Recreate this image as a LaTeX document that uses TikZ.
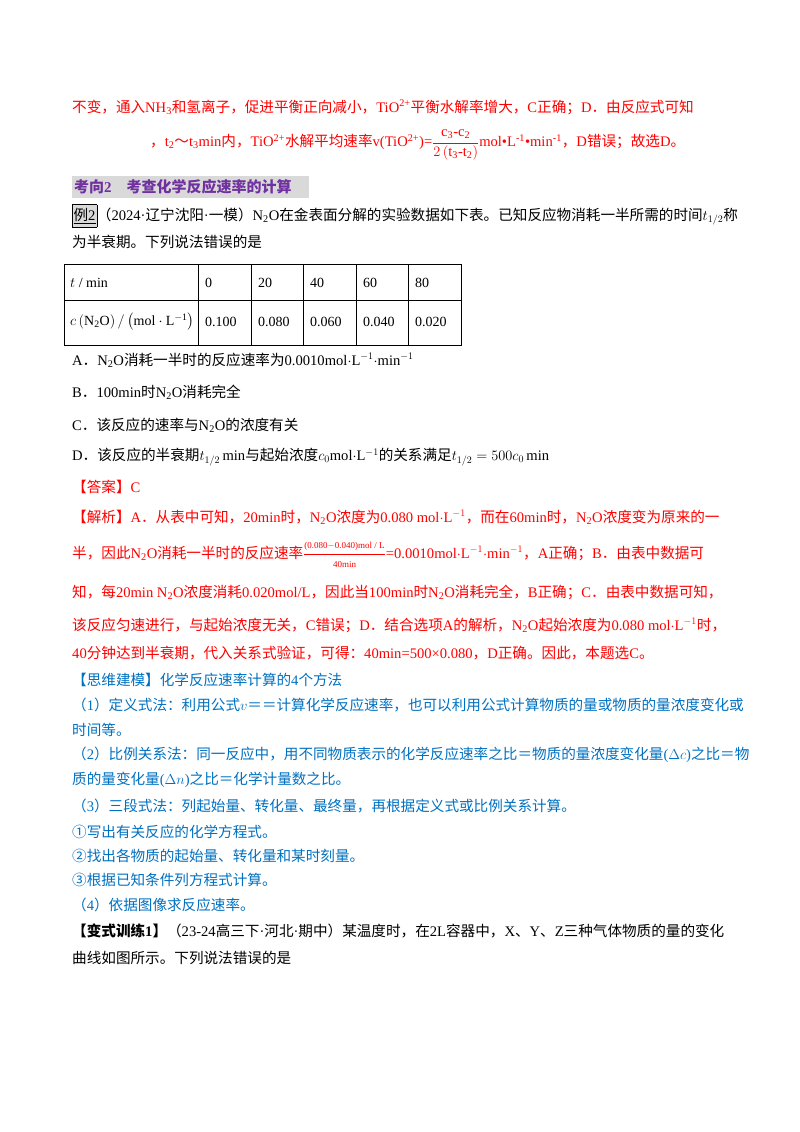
\documentclass[tikz,border=0pt]{standalone}
\usepackage{amsmath}
\usepackage{fontspec}
\setmainfont{Liberation Serif}
\newfontfamily\cjk{Noto Sans CJK SC}
\newfontfamily\lat{Liberation Serif}
\usepackage{tikz}

% switch fonts between Chinese and Latin runs
\newXeTeXintercharclass\cjkclass
\newcount\cc
\def\setcls#1#2{\cc=#1 \loop\XeTeXcharclass\cc=\cjkclass\advance\cc1 \ifnum\cc<#2\repeat}
\setcls{"4E00}{"A000}
\setcls{"3000}{"3040}
\setcls{"FF00}{"FFF0}
\setcls{"2460}{"2500}
\XeTeXinterchartoks 0 \cjkclass={\cjk}
\XeTeXinterchartoks 4095 \cjkclass={\cjk}
\XeTeXinterchartoks \cjkclass 0={\lat}
\XeTeXinterchartoks \cjkclass 4095={\lat}
\XeTeXinterchartokenstate=1

\definecolor{ansred}{RGB}{255,0,0}
\definecolor{tipblue}{RGB}{0,112,192}
\definecolor{headpurple}{RGB}{112,48,160}
\definecolor{headgray}{RGB}{217,217,217}
\tikzset{ln/.style={anchor=west,inner sep=0pt,font=\fontsize{14.6}{17}\selectfont},
  cell/.style={anchor=west,inner sep=0pt,font=\fontsize{14}{17}\selectfont}}
\newcommand{\NO}{N\textsubscript{2}O}
\newcommand{\molL}{mol$\cdot$L$^{-1}$}

\begin{document}
\begin{tikzpicture}[x=1pt,y=-1pt]
	\useasboundingbox (0,0) rectangle (800,1132);
	% solution tail in red
	\node[ln,ansred] (r1) at (72,107) {不变，通入NH\textsubscript{3}和氢离子，促进平衡正向减小，TiO\textsuperscript{2+}平衡水解率增大，C正确；D．由反应式可知};
	\node[ln,ansred] (r2) at (150,145) {，t\textsubscript{2}～t\textsubscript{3}min内，TiO\textsuperscript{2+}水解平均速率v(TiO\textsuperscript{2+})=$\dfrac{\mathrm{c_3\text{-}c_2}}{2\left(\mathrm{t_3\text{-}t_2}\right)}$mol•L\textsuperscript{-1}•min\textsuperscript{-1}，D错误；故选D。};
	% heading
	\fill[headgray] (72,176) rectangle (309,198);
	\node[ln,headpurple,font=\fontsize{15}{17}\selectfont\bfseries] (head) at (74,187) {考向2\quad 考查化学反应速率的计算};
	% question
	\node[ln] (q1) at (72,216) {\fcolorbox{black}{headgray}{\kern-2pt\underline{例2}\kern-2pt}（2024·辽宁沈阳·一模）\NO 在金表面分解的实验数据如下表。已知反应物消耗一半所需的时间$t_{1/2}$称};
	\node[ln] (q2) at (72,242) {为半衰期。下列说法错误的是};
	% table
	\draw[line width=1pt] (64,264) rectangle (461,345);
	\draw[line width=0.8pt] (64,300) -- (461,300);
	\foreach \cx in {198,251,303,356,408} \draw[line width=0.8pt] (\cx,264) -- (\cx,345);
	\node[cell] (th) at (70,283) {$t$ / min};
	\node[cell] (tc) at (70,322) {$c\left(\mathrm{N_2O}\right)/\left(\mathrm{mol\cdot L^{-1}}\right)$};
	\foreach \cx/\tv/\cv [count=\i] in {205/0/0.100, 258/20/0.080, 310/40/0.060, 363/60/0.040, 415/80/0.020}{
		\node[cell] (t\i) at (\cx,283) {\tv};
		\node[cell] (c\i) at (\cx,322) {\cv};
	}
	% options
	\node[ln] (oa) at (72,360) {A．\NO 消耗一半时的反应速率为0.0010\molL$\cdot$min$^{-1}$};
	\node[ln] (ob) at (72,392) {B．100min时\NO 消耗完全};
	\node[ln] (oc) at (72,425) {C．该反应的速率与\NO 的浓度有关};
	\node[ln] (od) at (72,457) {D．该反应的半衰期$t_{1/2}$\,min与起始浓度$c_0$\molL 的关系满足$t_{1/2}=500c_0$\,min};
	% answer
	\node[ln,ansred] (ans) at (72,487) {【答案】C};
	\node[ln,ansred] (s1) at (72,517) {【解析】A．从表中可知，20min时，\NO 浓度为0.080 \molL，而在60min时，\NO 浓度变为原来的一};
	\node[ln,ansred] (s2) at (72,555) {半，因此\NO 消耗一半时的反应速率$\dfrac{\text{\small(0.080$-$0.040)mol / L}}{\text{\small 40min}}$=0.0010\molL$\cdot$min$^{-1}$，A正确；B．由表中数据可};
	\node[ln,ansred] (s3) at (72,592) {知，每20min \NO 浓度消耗0.020mol/L，因此当100min时\NO 消耗完全，B正确；C．由表中数据可知，};
	\node[ln,ansred] (s4) at (72,625) {该反应匀速进行，与起始浓度无关，C错误；D．结合选项A的解析，\NO 起始浓度为0.080 \molL 时，};
	\node[ln,ansred] (s5) at (72,653) {40分钟达到半衰期，代入关系式验证，可得：40min=500×0.080，D正确。因此，本题选C。};
	% method notes in blue
	\node[ln,tipblue] (m0) at (72,680) {【思维建模】化学反应速率计算的4个方法};
	\node[ln,tipblue] (m1) at (72,705) {（1）定义式法：利用公式$v$＝＝计算化学反应速率，也可以利用公式计算物质的量或物质的量浓度变化或};
	\node[ln,tipblue] (m1b) at (72,730) {时间等。};
	\node[ln,tipblue] (m2) at (72,755) {（2）比例关系法：同一反应中，用不同物质表示的化学反应速率之比＝物质的量浓度变化量($\Delta c$)之比＝物};
	\node[ln,tipblue] (m2b) at (72,780) {质的量变化量($\Delta n$)之比＝化学计量数之比。};
	\node[ln,tipblue] (m3) at (72,806) {（3）三段式法：列起始量、转化量、最终量，再根据定义式或比例关系计算。};
	\node[ln,tipblue] (m3a) at (72,832) {①写出有关反应的化学方程式。};
	\node[ln,tipblue] (m3b) at (72,856) {②找出各物质的起始量、转化量和某时刻量。};
	\node[ln,tipblue] (m3c) at (72,880) {③根据已知条件列方程式计算。};
	\node[ln,tipblue] (m4) at (72,905) {（4）依据图像求反应速率。};
	% next exercise
	\node[ln] (v1) at (72,931) {{\bfseries 【变式训练1】}（23-24高三下·河北·期中）某温度时，在2L容器中，X、Y、Z三种气体物质的量的变化};
	\node[ln] (v2) at (72,958) {曲线如图所示。下列说法错误的是};
\end{tikzpicture}
\end{document}
